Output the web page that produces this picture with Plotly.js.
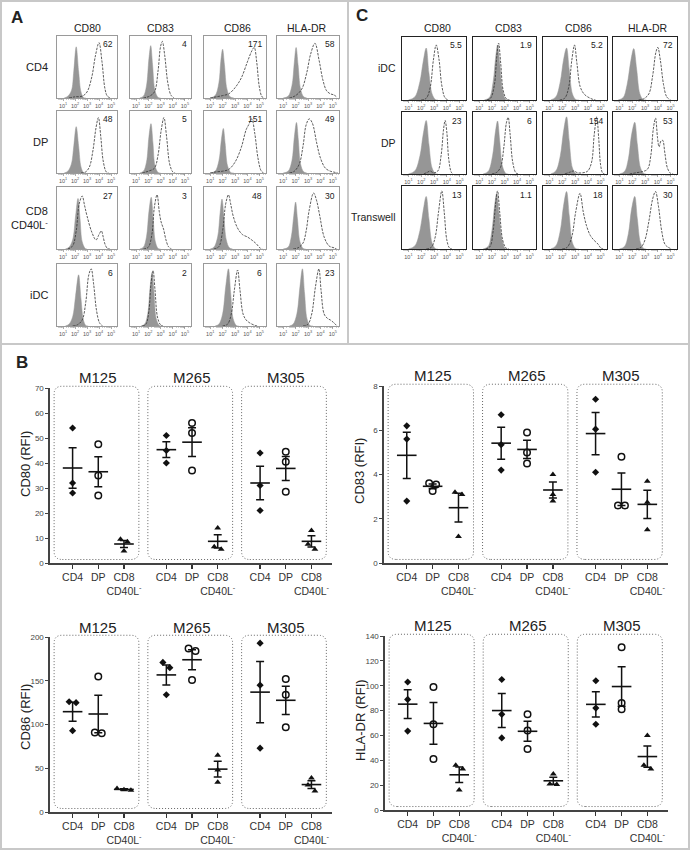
<!DOCTYPE html>
<html><head><meta charset="utf-8">
<script src="https://cdn.plot.ly/plotly-3.0.1.min.js"></script>
<style>html,body{margin:0;padding:0;background:#fff}#chart{width:690px;height:850px}</style>
</head><body><div id="chart"></div>
<script>
// ================= DATA =================
const markers = ['CD80', 'CD83', 'CD86', 'HLA-DR'];
const rowsA = ['CD4', 'DP', 'CD8<br>CD40L<sup>-</sup>', 'iDC'];
const rowsC = ['iDC', 'DP', 'Transwell'];
const decadeTicks = [1, 2, 3, 4, 5];
const decadeLabels = ['10<sup>1</sup>', '10<sup>2</sup>', '10<sup>3</sup>', '10<sup>4</sup>', '10<sup>5</sup>'];
const rfiA = [['62', '4', '171', '58'], ['48', '5', '151', '49'], ['27', '3', '48', '30'], ['6', '2', '6', '23']];
const rfiC = [['5.5', '1.9', '5.2', '72'], ['23', '6', '154', '53'], ['13', '1.1', '18', '30']];

// Histogram curves: flat pairs [log10 intensity, relative count, ...]
// Panel A (columns CD80, CD83, CD86, HLA-DR)
const A_CD4_iso = [
  [1.1,0, 1.4,0.03, 1.7,0.12, 1.9,0.45, 2.1,0.85, 2.3,0.45, 2.5,0.1, 2.7,0.01, 2.9,0],
  [1.3,0, 1.6,0.03, 1.85,0.2, 2.05,0.65, 2.2,0.87, 2.35,0.55, 2.55,0.12, 2.8,0.01, 3.0,0],
  [1.0,0, 1.4,0.04, 1.7,0.25, 1.85,0.6, 2.0,0.81, 2.15,0.55, 2.35,0.15, 2.6,0.02, 2.9,0],
  [1.0,0, 1.4,0.03, 1.7,0.2, 1.9,0.6, 2.04,0.84, 2.2,0.55, 2.4,0.15, 2.65,0.02, 2.9,0]
];
const A_CD4_stain = [
  [1.5,0, 2.0,0.02, 2.6,0.03, 3.0,0.1, 3.4,0.35, 3.7,0.7, 4.0,0.92, 4.25,0.6, 4.5,0.15, 4.7,0.03, 5.0,0],
  [1.6,0, 2.1,0.03, 2.5,0.1, 2.8,0.45, 3.0,0.85, 3.15,0.94, 3.35,0.7, 3.6,0.25, 3.85,0.05, 4.1,0],
  [1.0,0, 1.5,0.02, 2.0,0.04, 2.5,0.07, 3.0,0.17, 3.5,0.33, 4.0,0.6, 4.35,0.78, 4.55,0.84, 4.75,0.6, 4.95,0.2, 5.15,0.03, 5.3,0],
  [1.5,0, 2.0,0.04, 2.5,0.15, 2.9,0.42, 3.2,0.72, 3.56,0.91, 3.9,0.62, 4.2,0.3, 4.5,0.12, 4.8,0.07, 5.1,0.05, 5.35,0.01]
];
const A_DP_iso = [
  [1.1,0, 1.4,0.03, 1.7,0.15, 1.9,0.45, 2.1,0.77, 2.3,0.45, 2.5,0.1, 2.7,0.01, 2.9,0],
  [1.3,0, 1.6,0.03, 1.85,0.18, 2.05,0.6, 2.22,0.82, 2.38,0.5, 2.55,0.12, 2.8,0.01, 3.0,0],
  [1.0,0, 1.4,0.03, 1.7,0.2, 1.9,0.55, 2.06,0.74, 2.2,0.5, 2.4,0.12, 2.65,0.01, 2.9,0],
  [1.0,0, 1.4,0.03, 1.7,0.2, 1.9,0.6, 2.07,0.84, 2.22,0.55, 2.4,0.15, 2.65,0.02, 2.9,0]
];
const A_DP_stain = [
  [2.5,0, 2.9,0.02, 3.2,0.1, 3.5,0.38, 3.75,0.75, 3.95,0.92, 4.15,0.6, 4.35,0.2, 4.6,0.02, 4.8,0],
  [1.5,0, 2.0,0.03, 2.5,0.08, 2.8,0.3, 3.05,0.7, 3.28,0.92, 3.5,0.6, 3.75,0.15, 4.0,0.02, 4.2,0],
  [1.0,0, 1.5,0.02, 2.0,0.03, 2.5,0.06, 3.0,0.18, 3.5,0.42, 3.9,0.72, 4.1,0.8, 4.35,0.9, 4.6,0.65, 4.85,0.25, 5.1,0.04, 5.3,0],
  [1.5,0, 1.9,0.03, 2.3,0.15, 2.6,0.45, 2.85,0.8, 3.1,0.9, 3.35,0.83, 3.7,0.5, 4.0,0.25, 4.4,0.08, 4.8,0.03, 5.2,0.01, 5.4,0]
];
const A_CD8_iso = [
  [1.2,0, 1.5,0.03, 1.8,0.15, 2.05,0.55, 2.25,0.84, 2.42,0.5, 2.6,0.12, 2.85,0.01, 3.0,0],
  [1.3,0, 1.6,0.03, 1.85,0.2, 2.05,0.62, 2.24,0.86, 2.4,0.5, 2.58,0.12, 2.8,0.01, 3.0,0],
  [1.0,0, 1.3,0.03, 1.6,0.2, 1.8,0.6, 1.95,0.83, 2.1,0.55, 2.3,0.15, 2.55,0.02, 2.8,0],
  [1.0,0, 1.4,0.03, 1.65,0.2, 1.85,0.55, 2.0,0.78, 2.15,0.5, 2.35,0.12, 2.6,0.01, 2.8,0]
];
const A_CD8_stain = [
  [1.4,0, 1.8,0.05, 2.1,0.3, 2.35,0.75, 2.6,0.88, 2.8,0.72, 3.0,0.55, 3.4,0.28, 3.75,0.15, 4.0,0.24, 4.2,0.3, 4.35,0.2, 4.5,0.08, 4.7,0.01, 4.9,0],
  [1.6,0, 2.0,0.03, 2.3,0.25, 2.5,0.7, 2.72,0.9, 2.9,0.62, 3.05,0.45, 3.25,0.33, 3.45,0.15, 3.65,0.04, 3.9,0],
  [1.3,0, 1.7,0.04, 2.0,0.3, 2.25,0.75, 2.47,0.9, 2.65,0.75, 2.85,0.55, 3.2,0.35, 3.6,0.24, 4.0,0.2, 4.35,0.15, 4.75,0.08, 5.0,0.02, 5.2,0],
  [1.8,0, 2.2,0.02, 2.6,0.1, 2.85,0.3, 3.1,0.65, 3.45,0.93, 3.7,0.8, 3.95,0.55, 4.3,0.2, 4.7,0.05, 5.1,0.02, 5.3,0]
];
const A_iDC_iso = [
  [1.2,0, 1.5,0.03, 1.8,0.15, 2.05,0.5, 2.3,0.85, 2.5,0.45, 2.7,0.1, 2.9,0.01, 3.1,0],
  [1.4,0, 1.7,0.03, 1.95,0.2, 2.15,0.65, 2.31,0.89, 2.47,0.55, 2.65,0.12, 2.9,0.01, 3.1,0],
  [1.4,0, 1.7,0.03, 2.0,0.2, 2.25,0.65, 2.47,0.95, 2.65,0.55, 2.85,0.12, 3.1,0.01, 3.3,0],
  [1.5,0, 1.8,0.03, 2.1,0.2, 2.35,0.65, 2.55,0.95, 2.72,0.55, 2.92,0.12, 3.15,0.01, 3.4,0]
];
const A_iDC_stain = [
  [1.8,0, 2.2,0.02, 2.6,0.1, 2.9,0.4, 3.15,0.85, 3.35,0.95, 3.55,0.7, 3.8,0.25, 4.05,0.05, 4.3,0],
  [1.5,0, 1.8,0.03, 2.05,0.25, 2.22,0.7, 2.39,0.92, 2.55,0.6, 2.75,0.15, 3.0,0.02, 3.2,0],
  [2.0,0, 2.4,0.03, 2.7,0.2, 2.95,0.6, 3.21,0.93, 3.4,0.6, 3.65,0.2, 3.9,0.1, 4.2,0.05, 4.6,0.01, 4.8,0],
  [2.6,0, 3.0,0.03, 3.3,0.2, 3.6,0.65, 3.88,0.95, 4.05,0.6, 4.3,0.2, 4.55,0.13, 4.8,0.1, 5.05,0.06, 5.3,0.01]
];
// Panel C
const C_iDC_iso = [
  [1.0,0, 1.5,0.05, 1.9,0.3, 2.15,0.62, 2.39,0.85, 2.6,0.45, 2.85,0.1, 3.1,0.01, 3.3,0],
  [1.4,0, 1.8,0.04, 2.1,0.3, 2.3,0.7, 2.45,0.9, 2.62,0.6, 2.85,0.15, 3.1,0.01, 3.3,0],
  [1.1,0, 1.5,0.05, 1.85,0.3, 2.1,0.65, 2.34,0.85, 2.55,0.5, 2.8,0.1, 3.05,0.01, 3.3,0],
  [0.9,0, 1.3,0.04, 1.6,0.25, 1.9,0.65, 2.12,0.84, 2.35,0.5, 2.6,0.1, 2.85,0.01, 3.1,0]
];
const C_iDC_stain = [
  [2.0,0, 2.4,0.03, 2.7,0.2, 2.95,0.65, 3.17,0.9, 3.4,0.65, 3.6,0.25, 3.85,0.04, 4.1,0],
  [1.6,0, 1.9,0.03, 2.2,0.25, 2.38,0.7, 2.53,0.93, 2.7,0.6, 2.9,0.15, 3.15,0.02, 3.4,0],
  [1.8,0, 2.2,0.03, 2.5,0.2, 2.75,0.65, 2.96,0.9, 3.15,0.6, 3.4,0.22, 3.7,0.1, 4.0,0.05, 4.4,0.01, 4.6,0],
  [2.5,0, 2.9,0.02, 3.3,0.1, 3.6,0.4, 3.85,0.78, 4.0,0.86, 4.2,0.65, 4.45,0.25, 4.7,0.05, 5.0,0]
];
const C_DP_iso = [
  [1.0,0, 1.5,0.05, 1.9,0.3, 2.15,0.65, 2.39,0.89, 2.6,0.5, 2.85,0.1, 3.1,0.01, 3.3,0],
  [1.3,0, 1.7,0.04, 2.05,0.3, 2.28,0.7, 2.45,0.88, 2.62,0.55, 2.85,0.12, 3.1,0.01, 3.3,0],
  [1.1,0, 1.5,0.05, 1.85,0.3, 2.1,0.7, 2.34,0.95, 2.55,0.55, 2.8,0.1, 3.05,0.01, 3.3,0],
  [1.0,0, 1.4,0.04, 1.7,0.25, 1.95,0.65, 2.2,0.86, 2.4,0.5, 2.65,0.1, 2.9,0.01, 3.1,0]
];
const C_DP_stain = [
  [2.2,0, 2.5,0.03, 2.7,0.05, 2.95,0.02, 3.3,0.05, 3.55,0.3, 3.75,0.75, 3.87,0.89, 4.0,0.7, 4.15,0.25, 4.35,0.03, 4.5,0],
  [2.0,0, 2.4,0.03, 2.7,0.12, 2.95,0.45, 3.15,0.85, 3.29,0.94, 3.45,0.65, 3.65,0.2, 3.9,0.02, 4.1,0],
  [2.2,0, 2.6,0.03, 2.9,0.05, 3.2,0.02, 3.6,0.02, 4.0,0.05, 4.3,0.2, 4.5,0.65, 4.7,0.95, 4.85,0.6, 5.0,0.15, 5.15,0.02, 5.3,0],
  [1.8,0, 2.3,0.02, 2.8,0.04, 3.2,0.08, 3.45,0.3, 3.65,0.75, 3.82,0.93, 3.98,0.6, 4.1,0.45, 4.25,0.55, 4.38,0.56, 4.55,0.35, 4.75,0.1, 5.0,0.01, 5.2,0]
];
const C_TW_iso = [
  [1.0,0, 1.5,0.05, 1.9,0.3, 2.15,0.62, 2.39,0.86, 2.6,0.5, 2.85,0.1, 3.1,0.01, 3.3,0],
  [1.3,0, 1.7,0.04, 2.0,0.3, 2.22,0.72, 2.38,0.91, 2.55,0.6, 2.8,0.15, 3.05,0.01, 3.3,0],
  [1.1,0, 1.5,0.05, 1.85,0.3, 2.1,0.7, 2.34,0.94, 2.55,0.55, 2.8,0.1, 3.05,0.01, 3.3,0],
  [1.0,0, 1.4,0.04, 1.7,0.25, 1.95,0.65, 2.2,0.86, 2.4,0.5, 2.65,0.1, 2.9,0.01, 3.1,0]
];
const C_TW_stain = [
  [2.4,0, 2.8,0.03, 3.1,0.2, 3.35,0.6, 3.61,0.95, 3.8,0.6, 4.0,0.15, 4.2,0.02, 4.4,0],
  [1.5,0, 1.85,0.04, 2.1,0.3, 2.3,0.75, 2.45,0.95, 2.62,0.6, 2.85,0.15, 3.1,0.02, 3.35,0],
  [2.0,0, 2.4,0.03, 2.75,0.2, 3.05,0.6, 3.39,0.91, 3.65,0.6, 3.9,0.38, 4.2,0.22, 4.5,0.14, 4.8,0.08, 5.0,0.02, 5.2,0],
  [2.3,0, 2.7,0.03, 3.0,0.15, 3.3,0.45, 3.6,0.82, 3.82,0.94, 4.05,0.7, 4.3,0.3, 4.55,0.08, 4.8,0.03, 5.1,0]
];

// Panel B: RFI per donor [M125, M265, M305], three replicate values each
const donors = ['M125', 'M265', 'M305'];
const cellTypes = ['CD4', 'DP', 'CD8<br>CD40L<sup>-</sup>'];
const CD80_CD4 = [[54, 32, 28], [51, 45, 40], [44, 31, 21]];
const CD80_DP  = [[47.5, 35, 27], [56, 52, 37], [44.5, 40.5, 28.5]];
const CD80_CD8 = [[9.5, 8.5, 4.8], [14, 6.5, 5.5], [13, 7.5, 5.5]];
const CD83_CD4 = [[6.2, 5.6, 2.8], [6.7, 5.35, 4.2], [7.4, 6.05, 4.1]];
const CD83_DP  = [[3.6, 3.55, 3.25], [5.9, 5.0, 4.5], [4.8, 2.6, 2.6]];
const CD83_CD8 = [[3.2, 3.1, 1.2], [4.0, 3.1, 2.8], [3.7, 2.75, 1.5]];
const CD86_CD4 = [[126, 125, 93], [171, 165, 134], [193, 145, 73]];
const CD86_DP  = [[155, 91, 90], [187, 184, 151], [152, 134, 97]];
const CD86_CD8 = [[27, 25.5, 25], [65, 48, 34], [39, 31, 24]];
const HLADR_CD4 = [[103, 89, 63.5], [105, 77, 58], [104, 82, 69]];
const HLADR_DP  = [[99, 69, 41], [77, 64, 49], [131, 86, 81]];
const HLADR_CD8 = [[36, 33, 16], [29, 21, 20.5], [60, 36, 33]];

// ================= DRAWING =================
const W = 690, H = 850;
const fx = p => p / W;
const fy = p => 1 - p / H;
const FONT = 'Liberation Sans, Arial, Helvetica, sans-serif';
const layout = {
  width: W, height: H, margin: {l: 0, r: 0, t: 0, b: 0},
  paper_bgcolor: '#ffffff', plot_bgcolor: 'rgba(0,0,0,0)', showlegend: false,
  font: {family: FONT, color: '#222'}, annotations: [], shapes: []
};
const traces = [];
let nAx = 0;
const axn = (n, c) => c + (n === 1 ? '' : n);
const lk = (n, c) => c + 'axis' + (n === 1 ? '' : n);
const evens = a => a.filter((_, i) => i % 2 === 0);
const odds = a => a.filter((_, i) => i % 2 === 1);
const minorTicks = [];
for (let d = 0; d < 6; d++) for (let k = 2; k < 10; k++) { const v = d + Math.log10(k); if (v > 0.5 && v < 5.5) minorTicks.push(v); }

function txt(x, y, text, size, opts) {
  layout.annotations.push(Object.assign({xref: 'paper', yref: 'paper', x: fx(x), y: fy(y), text: text,
    xanchor: 'center', yanchor: 'middle', showarrow: false, font: {size: size, color: '#222', family: FONT}}, opts || {}));
}

function hist(l, r, t, b, iso, stain, label, frameColor, frameW) {
  const n = ++nAx; const xa = axn(n, 'x'), ya = axn(n, 'y');
  layout[lk(n, 'x')] = {domain: [fx(l), fx(r)], range: [0.5, 5.5], anchor: ya, tickmode: 'array',
    tickvals: decadeTicks, ticktext: decadeLabels, ticks: 'outside', ticklen: 2, tickwidth: 0.6, tickcolor: '#777',
    tickfont: {size: 5.5, color: '#555'}, tickangle: 0, showline: true, mirror: true, linecolor: frameColor, linewidth: frameW,
    zeroline: false, showgrid: false, fixedrange: true,
    minor: {tickmode: 'array', tickvals: minorTicks, ticks: 'outside', ticklen: 1.2, tickwidth: 0.5, tickcolor: '#999'}};
  layout[lk(n, 'y')] = {domain: [fy(b), fy(t)], range: [0, 1.03], anchor: xa, showticklabels: false, ticks: '',
    showline: true, mirror: true, linecolor: frameColor, linewidth: frameW, zeroline: false, showgrid: false, fixedrange: true};
  traces.push({type: 'scatter', mode: 'lines', x: evens(iso), y: odds(iso), xaxis: xa, yaxis: ya,
    fill: 'tozeroy', fillcolor: '#969696', line: {color: '#969696', width: 0.5, shape: 'spline', smoothing: 1}, hoverinfo: 'skip'});
  traces.push({type: 'scatter', mode: 'lines', x: evens(stain), y: odds(stain), xaxis: xa, yaxis: ya,
    line: {color: '#333', width: 0.8, dash: '2.5px,1.2px', shape: 'spline', smoothing: 1}, hoverinfo: 'skip'});
  txt(r - 2, t + 1.5, label, 8.5, {xanchor: 'right', yanchor: 'top'});
}

// ---- Panel A ----
const colsA = [[57, 117], [130, 191], [204, 266], [277, 339]];
const rowsAy = [[36, 98], [111, 173], [187, 249], [264, 326]];
const A_iso = [A_CD4_iso, A_DP_iso, A_CD8_iso, A_iDC_iso];
const A_stain = [A_CD4_stain, A_DP_stain, A_CD8_stain, A_iDC_stain];
for (let r = 0; r < 4; r++) for (let c = 0; c < 4; c++)
  hist(colsA[c][0], colsA[c][1], rowsAy[r][0], rowsAy[r][1], A_iso[r][c], A_stain[r][c], rfiA[r][c], '#9a9a9a', 1);
const headA = [87, 160, 237, 307];
markers.forEach((m, i) => txt(headA[i], 28, m, 10.5));
const rowAyc = [67, 142, 218, 295];
rowsA.forEach((lab, i) => txt(50, rowAyc[i], lab, 11, {xanchor: 'right', align: 'right'}));
txt(17, 18, '<b>A</b>', 17);

// ---- Panel C ----
const colsC = [[402, 466], [473, 536], [543, 607], [613, 677]];
const rowsCy = [[37, 100], [112, 174], [186, 249]];
const C_iso = [C_iDC_iso, C_DP_iso, C_TW_iso];
const C_stain = [C_iDC_stain, C_DP_stain, C_TW_stain];
for (let r = 0; r < 3; r++) for (let c = 0; c < 4; c++)
  hist(colsC[c][0], colsC[c][1], rowsCy[r][0], rowsCy[r][1], C_iso[r][c], C_stain[r][c], rfiC[r][c], '#222', 1.2);
const headC = [437, 508, 578, 648];
markers.forEach((m, i) => txt(headC[i], 28, m, 10.5));
const rowCyc = [68, 143, 217];
rowsC.forEach((lab, i) => txt(398, rowCyc[i], lab, 10.5, {xanchor: 'right'}));
txt(362, 15, '<b>C</b>', 17);

// ---- Panel B ----
txt(22, 362, '<b>B</b>', 17);
const groupStart = [0, 3.65, 7.3];
const catPos = groupStart.flatMap(g => [g, g + 1, g + 2]);
const catText = groupStart.flatMap(() => cellTypes);
const mean = a => a.reduce((s, v) => s + v, 0) / a.length;
const sem = a => { const m = mean(a); return Math.sqrt(a.reduce((s, v) => s + (v - m) * (v - m), 0) / (a.length - 1)) / Math.sqrt(a.length); };
function spread(vals, thr) {
  const idx = vals.map((_, i) => i).sort((a, b) => vals[b] - vals[a]);
  const off = vals.map(() => 0);
  let cl = [idx[0]];
  const flush = () => cl.forEach((id, j) => { off[id] = (j - (cl.length - 1) / 2) * 0.27; });
  for (let j = 1; j < idx.length; j++) {
    if (vals[cl[cl.length - 1]] - vals[idx[j]] < thr) cl.push(idx[j]); else { flush(); cl = [idx[j]]; }
  }
  flush();
  return off;
}
const symStyles = [
  {symbol: 'diamond', size: 5.5, color: '#111'},
  {symbol: 'circle-open', size: 6.5, color: '#111', line: {width: 1.5, color: '#111'}},
  {symbol: 'triangle-up', size: 6, color: '#111'}
];

function dots(l, r, t, b, ymax, dtick, yTitle, titleX, titleY, donorY, sets) {
  const n = ++nAx; const xa = axn(n, 'x'), ya = axn(n, 'y');
  layout[lk(n, 'x')] = {domain: [fx(l), fx(r)], range: [-0.88, 10.1], anchor: ya, tickmode: 'array',
    tickvals: catPos, ticktext: catText, ticks: 'outside', ticklen: 4, tickwidth: 1.3, tickcolor: '#333',
    tickfont: {size: 10.5, color: '#333'}, tickangle: 0, showline: true, linecolor: '#444', linewidth: 1.6,
    zeroline: false, showgrid: false, fixedrange: true};
  layout[lk(n, 'y')] = {domain: [fy(b), fy(t)], range: [0, ymax], anchor: xa, dtick: dtick, ticks: 'outside',
    ticklen: 3, tickwidth: 1, tickcolor: '#444', tickfont: {size: 8, color: '#444'}, showline: true,
    linecolor: '#444', linewidth: 1.6, zeroline: false, showgrid: false, fixedrange: true};
  const thr = ymax * 0.035;
  const mx = [], my = [], me = [];
  sets.forEach((set, k) => {
    const xs = [], ys = [];
    set.forEach((vals, g) => {
      const off = spread(vals, thr);
      vals.forEach((v, i) => { xs.push(groupStart[g] + k + off[i]); ys.push(v); });
      mx.push(groupStart[g] + k); my.push(mean(vals)); me.push(sem(vals));
    });
    traces.push({type: 'scatter', mode: 'markers', x: xs, y: ys, xaxis: xa, yaxis: ya, marker: symStyles[k], cliponaxis: false, hoverinfo: 'skip'});
  });
  traces.push({type: 'scatter', mode: 'markers', x: mx, y: my, xaxis: xa, yaxis: ya, hoverinfo: 'skip',
    marker: {symbol: 'line-ew', size: 14, line: {width: 1.6, color: '#111'}},
    error_y: {type: 'data', array: me, visible: true, color: '#111', thickness: 1.5, width: 4}});
  // dotted rounded group boxes
  const rx = 0.32, ry = 8 / (b - t), y0 = 0.02, y1 = 1.01;
  groupStart.forEach((g, gi) => {
    const x0 = g - 0.72, x1 = g + 2.58;
    const p = `M ${x0 + rx},${y0} L ${x1 - rx},${y0} Q ${x1},${y0} ${x1},${y0 + ry} L ${x1},${y1 - ry} Q ${x1},${y1} ${x1 - rx},${y1} L ${x0 + rx},${y1} Q ${x0},${y1} ${x0},${y1 - ry} L ${x0},${y0 + ry} Q ${x0},${y0} ${x0 + rx},${y0} Z`;
    layout.shapes.push({type: 'path', path: p, xref: xa, yref: ya + ' domain', line: {color: '#555', width: 0.9, dash: '1px,2px'}});
    layout.annotations.push({xref: xa, yref: 'paper', x: g + 1, y: fy(donorY), text: donors[gi], showarrow: false,
      xanchor: 'center', yanchor: 'middle', font: {size: 15, color: '#222', family: FONT}});
  });
  txt(titleX, titleY, yTitle, 13, {textangle: -90});
}

dots(50, 332, 388, 563, 70, 10, 'CD80 (RFI)', 25, 464, 377, [CD80_CD4, CD80_DP, CD80_CD8]);
dots(384, 668, 386, 563, 8, 2, 'CD83 (RFI)', 360, 471, 375, [CD83_CD4, CD83_DP, CD83_CD8]);
dots(50, 332, 637, 812, 200, 50, 'CD86 (RFI)', 25, 717, 627, [CD86_CD4, CD86_DP, CD86_CD8]);
dots(385, 668, 636, 810, 140, 20, 'HLA-DR (RFI)', 360, 720, 625, [HLADR_CD4, HLADR_DP, HLADR_CD8]);

// panel separators and frame
const sep = {color: '#c8c8c8', width: 2};
layout.shapes.push({type: 'rect', xref: 'paper', yref: 'paper', x0: fx(1), x1: fx(689), y0: fy(849), y1: fy(1), line: sep});
layout.shapes.push({type: 'line', xref: 'paper', yref: 'paper', x0: fx(348), x1: fx(348), y0: fy(0), y1: fy(344), line: sep});
layout.shapes.push({type: 'line', xref: 'paper', yref: 'paper', x0: fx(0), x1: fx(690), y0: fy(344), y1: fy(344), line: sep});

Plotly.newPlot('chart', traces, layout, {staticPlot: true, displayModeBar: false});
</script>
</body></html>
